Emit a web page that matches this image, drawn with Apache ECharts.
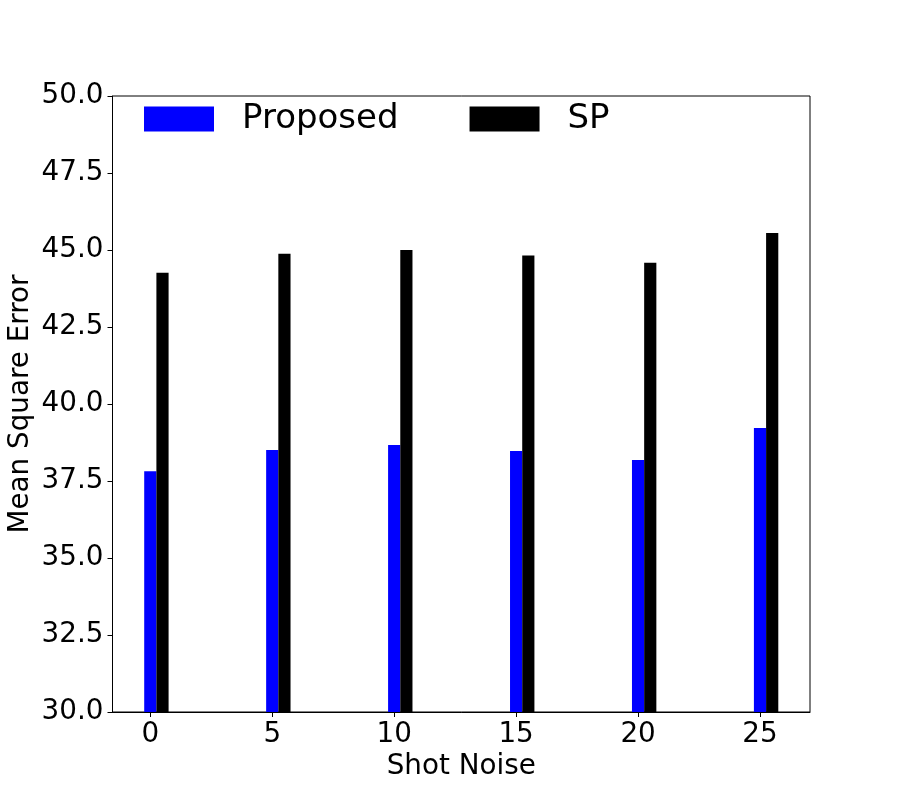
<!DOCTYPE html>
<html>
<head>
<meta charset="utf-8">
<script src="https://cdn.jsdelivr.net/npm/echarts@6/dist/echarts.min.js"></script>
<style>html,body{margin:0;padding:0;background:#fff}#c{width:900px;height:800px}</style>
</head>
<body>
<div id="c"></div>
<script>
const shotNoise = [0, 5, 10, 15, 20, 25];
const proposed = [37.82, 38.51, 38.67, 38.47, 38.18, 39.22];
const sp = [44.26, 44.88, 45.00, 44.82, 44.59, 45.55];
const yTicks = [30, 32.5, 35, 37.5, 40, 42.5, 45, 47.5, 50];
const seriesNames = ['Proposed', 'SP'];
const colors = ['#0000ff', '#000000'];
const barWidth = 0.5;
const spOffset = 0.5;

const FONT = 'DejaVu Sans';
const chart = echarts.init(document.getElementById('c'), null, {renderer: 'canvas'});

function makeRender(color) {
  return function (params, api) {
    const x = api.value(0), y = api.value(1);
    const p0 = api.coord([x - barWidth / 2, y]);
    const p1 = api.coord([x + barWidth / 2, yTicks[0]]);
    return {
      type: 'rect',
      shape: {x: p0[0], y: p0[1], width: p1[0] - p0[0], height: p1[1] - p0[1]},
      style: {fill: color}
    };
  };
}

chart.setOption({
  animation: false,
  backgroundColor: '#fff',
  grid: {left: 112.5, right: 90, top: 96, bottom: 88, show: true, borderColor: '#000', borderWidth: 1,
         backgroundColor: 'transparent', containLabel: false, outerBoundsMode: 'none'},
  legend: {
    left: 144, top: 102, padding: 0,
    itemWidth: 70, itemHeight: 25, itemGap: 71,
    icon: 'rect',
    data: seriesNames.map((n, i) => ({name: n, itemStyle: {color: colors[i]}})),
    textStyle: {fontFamily: FONT, fontSize: 34, color: '#000', padding: [0, 0, 0, 23]}
  },
  xAxis: {
    type: 'value',
    min: -1.55, max: 27.05,
    name: 'Shot Noise', nameLocation: 'middle', nameGap: 41, nameMoveOverlap: false,
    nameTextStyle: {fontFamily: FONT, fontSize: 27.8, color: '#000'},
    axisLine: {show: true, onZero: false, lineStyle: {color: '#000', width: 1}},
    axisTick: {show: true, length: 5, lineStyle: {color: '#000'}, customValues: shotNoise},
    axisLabel: {fontFamily: FONT, fontSize: 27.8, color: '#000', margin: 9, customValues: shotNoise},
    splitLine: {show: false}
  },
  yAxis: {
    type: 'value',
    min: 30, max: 50, interval: 2.5,
    name: 'Mean Square Error', nameLocation: 'middle', nameGap: 78, nameMoveOverlap: false,
    nameTextStyle: {fontFamily: FONT, fontSize: 27.8, color: '#000'},
    axisLine: {show: true, onZero: false, lineStyle: {color: '#000', width: 1}},
    axisTick: {show: true, length: 5, lineStyle: {color: '#000'}},
    axisLabel: {fontFamily: FONT, fontSize: 27.8, color: '#000', margin: 9, formatter: v => v.toFixed(1)},
    splitLine: {show: false}
  },
  series: [
    {
      name: seriesNames[0], type: 'custom', itemStyle: {color: colors[0]},
      encode: {x: 0, y: 1},
      renderItem: makeRender(colors[0]),
      data: shotNoise.map((x, i) => [x, proposed[i]])
    },
    {
      name: seriesNames[1], type: 'custom', itemStyle: {color: colors[1]},
      encode: {x: 0, y: 1},
      renderItem: makeRender(colors[1]),
      data: shotNoise.map((x, i) => [x + spOffset, sp[i]])
    }
  ]
});
</script>
</body>
</html>
